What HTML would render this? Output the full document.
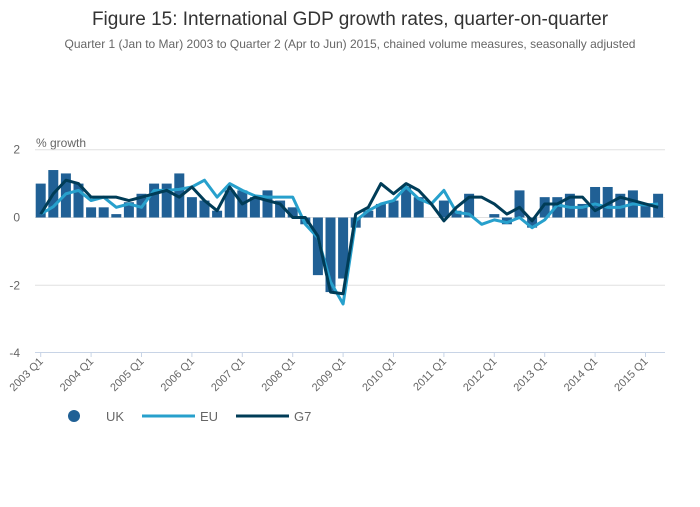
<!DOCTYPE html>
<html><head><meta charset="utf-8"><style>
body{margin:0;background:#fff;font-family:"Liberation Sans",sans-serif}
</style></head><body>
<svg id="c" width="700" height="502" xmlns="http://www.w3.org/2000/svg" font-family="Liberation Sans, sans-serif">
<text x="350" y="25" text-anchor="middle" font-size="19" fill="#333">Figure 15: International GDP growth rates, quarter-on-quarter</text>
<text x="350" y="48" text-anchor="middle" font-size="12" fill="#666">Quarter 1 (Jan to Mar) 2003 to Quarter 2 (Apr to Jun) 2015, chained volume measures, seasonally adjusted</text>
<text x="36" y="147" font-size="12" fill="#666">% growth</text>
<g id="grid"></g><g id="bars"></g><g id="lines"></g><g id="xaxis"></g>
<g>
<circle cx="74" cy="416" r="6" fill="#206095"/>
<text x="106" y="421" font-size="13" fill="#666">UK</text>
<line x1="142" y1="416" x2="195" y2="416" stroke="#27a0cc" stroke-width="3"/>
<text x="200" y="421" font-size="13" fill="#666">EU</text>
<line x1="236" y1="416" x2="289" y2="416" stroke="#003c57" stroke-width="3"/>
<text x="294" y="421" font-size="13" fill="#666">G7</text>
</g>
</svg>
<script>
const years=[2003,2004,2005,2006,2007,2008,2009,2010,2011,2012,2013,2014,2015];
const yTicks=[2,0,-2,-4];
const uk=[1.0,1.4,1.3,1.0,0.3,0.3,0.1,0.45,0.7,1.0,1.0,1.3,0.6,0.5,0.2,0.8,0.8,0.6,0.8,0.5,0.3,-0.2,-1.7,-2.2,-1.8,-0.3,0.2,0.4,0.5,0.9,0.6,0.0,0.5,0.2,0.7,0.0,0.1,-0.2,0.8,-0.3,0.6,0.6,0.7,0.4,0.9,0.9,0.7,0.8,0.4,0.7];
const eu=[0.1,0.32,0.7,0.8,0.5,0.6,0.3,0.4,0.3,0.8,0.8,0.83,0.9,1.1,0.6,1.0,0.8,0.64,0.6,0.6,0.6,-0.2,-0.6,-1.9,-2.55,-0.1,0.2,0.4,0.5,0.9,0.55,0.4,0.8,0.15,0.1,-0.2,-0.07,-0.15,0.0,-0.3,-0.07,0.37,0.3,0.3,0.4,0.3,0.3,0.4,0.37,0.4];
const g7=[0.1,0.7,1.1,1.0,0.6,0.6,0.6,0.5,0.6,0.7,0.8,0.6,0.9,0.5,0.2,0.9,0.4,0.6,0.5,0.4,0.0,0.0,-0.55,-2.2,-2.25,0.1,0.3,1.0,0.7,1.0,0.8,0.4,-0.1,0.3,0.6,0.6,0.4,0.1,0.3,-0.1,0.4,0.4,0.6,0.6,0.2,0.4,0.6,0.5,0.4,0.3];
const NS="http://www.w3.org/2000/svg";
const X=i=>40.7+i*12.6;
const Y=v=>217.5-v*33.9;
function mk(t,a,p){const e=document.createElementNS(NS,t);for(const k in a)e.setAttribute(k,a[k]);document.getElementById(p).appendChild(e);return e;}
yTicks.forEach(v=>{
  if(v>-4){const l=mk('line',{x1:35,x2:665,y1:Y(v),y2:Y(v),stroke:'#e0e0e0'},'grid');
  
  }
  const t=mk('text',{x:20,y:Y(v)+4,'text-anchor':'end','font-size':12,fill:'#666'},'grid');t.textContent=v;
  
  
});
uk.forEach((v,i)=>{
  const r=mk('rect',{x:X(i)-5,width:10,y:Math.min(Y(v),Y(0)),height:Math.abs(Y(v)-Y(0)),fill:'#206095'},'bars');
  
  
});
[[eu,'#27a0cc','line-eu'],[g7,'#003c57','line-g7']].forEach(([d,c,n])=>{
  const p=mk('polyline',{points:d.map((v,i)=>X(i)+','+Y(v)).join(' '),fill:'none',stroke:c,'stroke-width':3,'stroke-linejoin':'round'},'lines');
  
  
});
const ax=mk('line',{x1:35,x2:665,y1:352.5,y2:352.5,stroke:'#c8d4e6'},'xaxis');


years.forEach((y,k)=>{
  const x=X(k*4);
  const tk=mk('line',{x1:x,x2:x,y1:352,y2:357,stroke:'#c8d4e6'},'xaxis');
  
  
  const t=mk('text',{x:x+3,y:362,'text-anchor':'end','font-size':11,fill:'#666',transform:`rotate(-45 ${x+3} 362)`},'xaxis');
  t.textContent=y+' Q1';
  
  
});
</script>
</body></html>
